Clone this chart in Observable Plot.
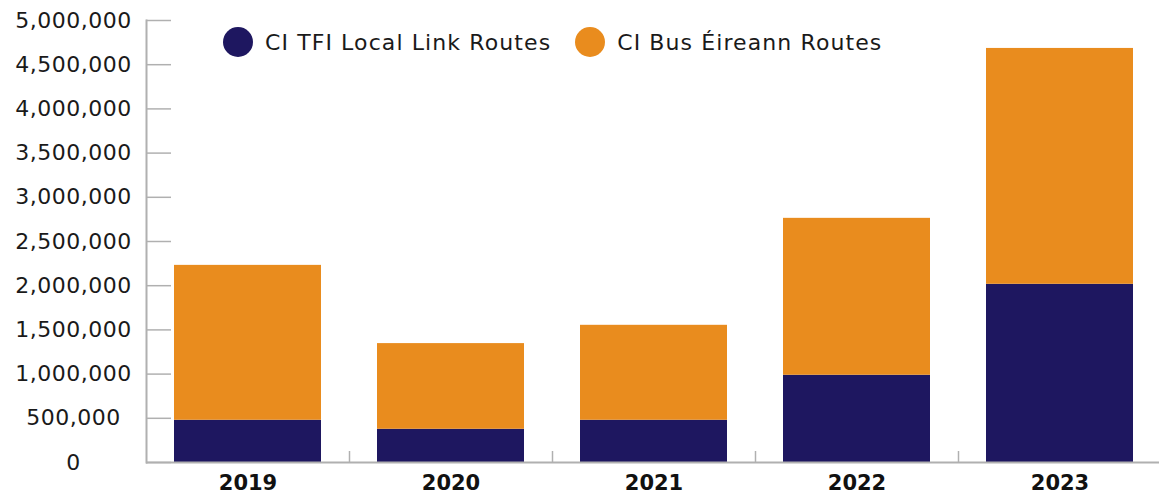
<!DOCTYPE html>
<html>
<head>
<meta charset="utf-8">
<script src="https://cdn.jsdelivr.net/npm/d3@7"></script>
<script src="https://cdn.jsdelivr.net/npm/@observablehq/plot@0.6"></script>
<style>
  html, body { margin: 0; padding: 0; background: #fff; }
  #wrap { position: relative; width: 1159px; height: 497px; font-family: "DejaVu Sans", sans-serif; }
  #legend { position: absolute; top: 27px; left: 223px; display: flex; align-items: center; font-size: 22px; letter-spacing: 1.1px; color: #1a1a1a; }
  .item { display: flex; align-items: center; margin-right: 24px; }
  .sw { width: 30px; height: 30px; border-radius: 50%; margin-right: 12px; }
  .yl text { letter-spacing: 0.5px; }
</style>
</head>
<body>
<div id="wrap"><div id="legend"></div></div>
<script>
const years = ["2019", "2020", "2021", "2022", "2023"];
const seriesNames = ["CI TFI Local Link Routes", "CI Bus Éireann Routes"];
const localLink = [478000, 376000, 478000, 987000, 2016000];
const busEireann = [1752000, 969000, 1074000, 1775000, 2668000];
const yTicks = [0, 500000, 1000000, 1500000, 2000000, 2500000, 3000000, 3500000, 4000000, 4500000, 5000000];
const colors = ["#1e1760", "#e98c1e"];

const rows = [];
years.forEach((yr, i) => {
  rows.push({year: yr, series: seriesNames[0], value: localLink[i]});
  rows.push({year: yr, series: seriesNames[1], value: busEireann[i]});
});

const W = 1159, H = 497, mL = 146;
const band = 203;

const chart = Plot.plot({
  width: W,
  height: H,
  marginLeft: mL,
  marginRight: 0,
  marginTop: 20,
  marginBottom: 35,
  style: {fontFamily: "'DejaVu Sans', sans-serif", background: "#fff"},
  x: {domain: years, range: [mL, mL + band * years.length], paddingInner: 0.276, paddingOuter: 0.138, align: 0.5},
  y: {domain: [0, 5000000]},
  color: {domain: seriesNames, range: colors},
  marks: [
    Plot.barY(rows, {x: "year", y: "value", fill: "series", order: seriesNames}),
    Plot.axisY({ticks: yTicks, tickSize: -25, text: null, stroke: "#b0b0b0", strokeWidth: 1.5, label: null}),
    Plot.axisY({ticks: yTicks, tickSize: 0, tickPadding: 73, textAnchor: "middle", tickFormat: d3.format(","), fontSize: 22, className: "yl", fill: "#1a1a1a", label: null}),
    Plot.frame({anchor: "left", stroke: "#b0b0b0", strokeWidth: 2}),
    Plot.ruleY([0], {stroke: "#b0b0b0", strokeWidth: 2}),
    Plot.axisX({tickSize: 0, tickPadding: 13, fontSize: 21, fontWeight: "bold", fill: "#111", label: null}),
    Plot.axisX({tickSize: -11, dx: band / 2, tickFormat: () => "", stroke: "#b0b0b0", strokeWidth: 1.5, label: null})
  ]
});
document.getElementById("wrap").prepend(chart);
chart.style.display = "block";

const legend = document.getElementById("legend");
seriesNames.forEach((name, i) => {
  const it = document.createElement("div");
  it.className = "item";
  const sw = document.createElement("span");
  sw.className = "sw";
  sw.style.background = colors[i];
  const tx = document.createElement("span");
  tx.textContent = name;
  it.appendChild(sw); it.appendChild(tx);
  legend.appendChild(it);
});
</script>
</body>
</html>
